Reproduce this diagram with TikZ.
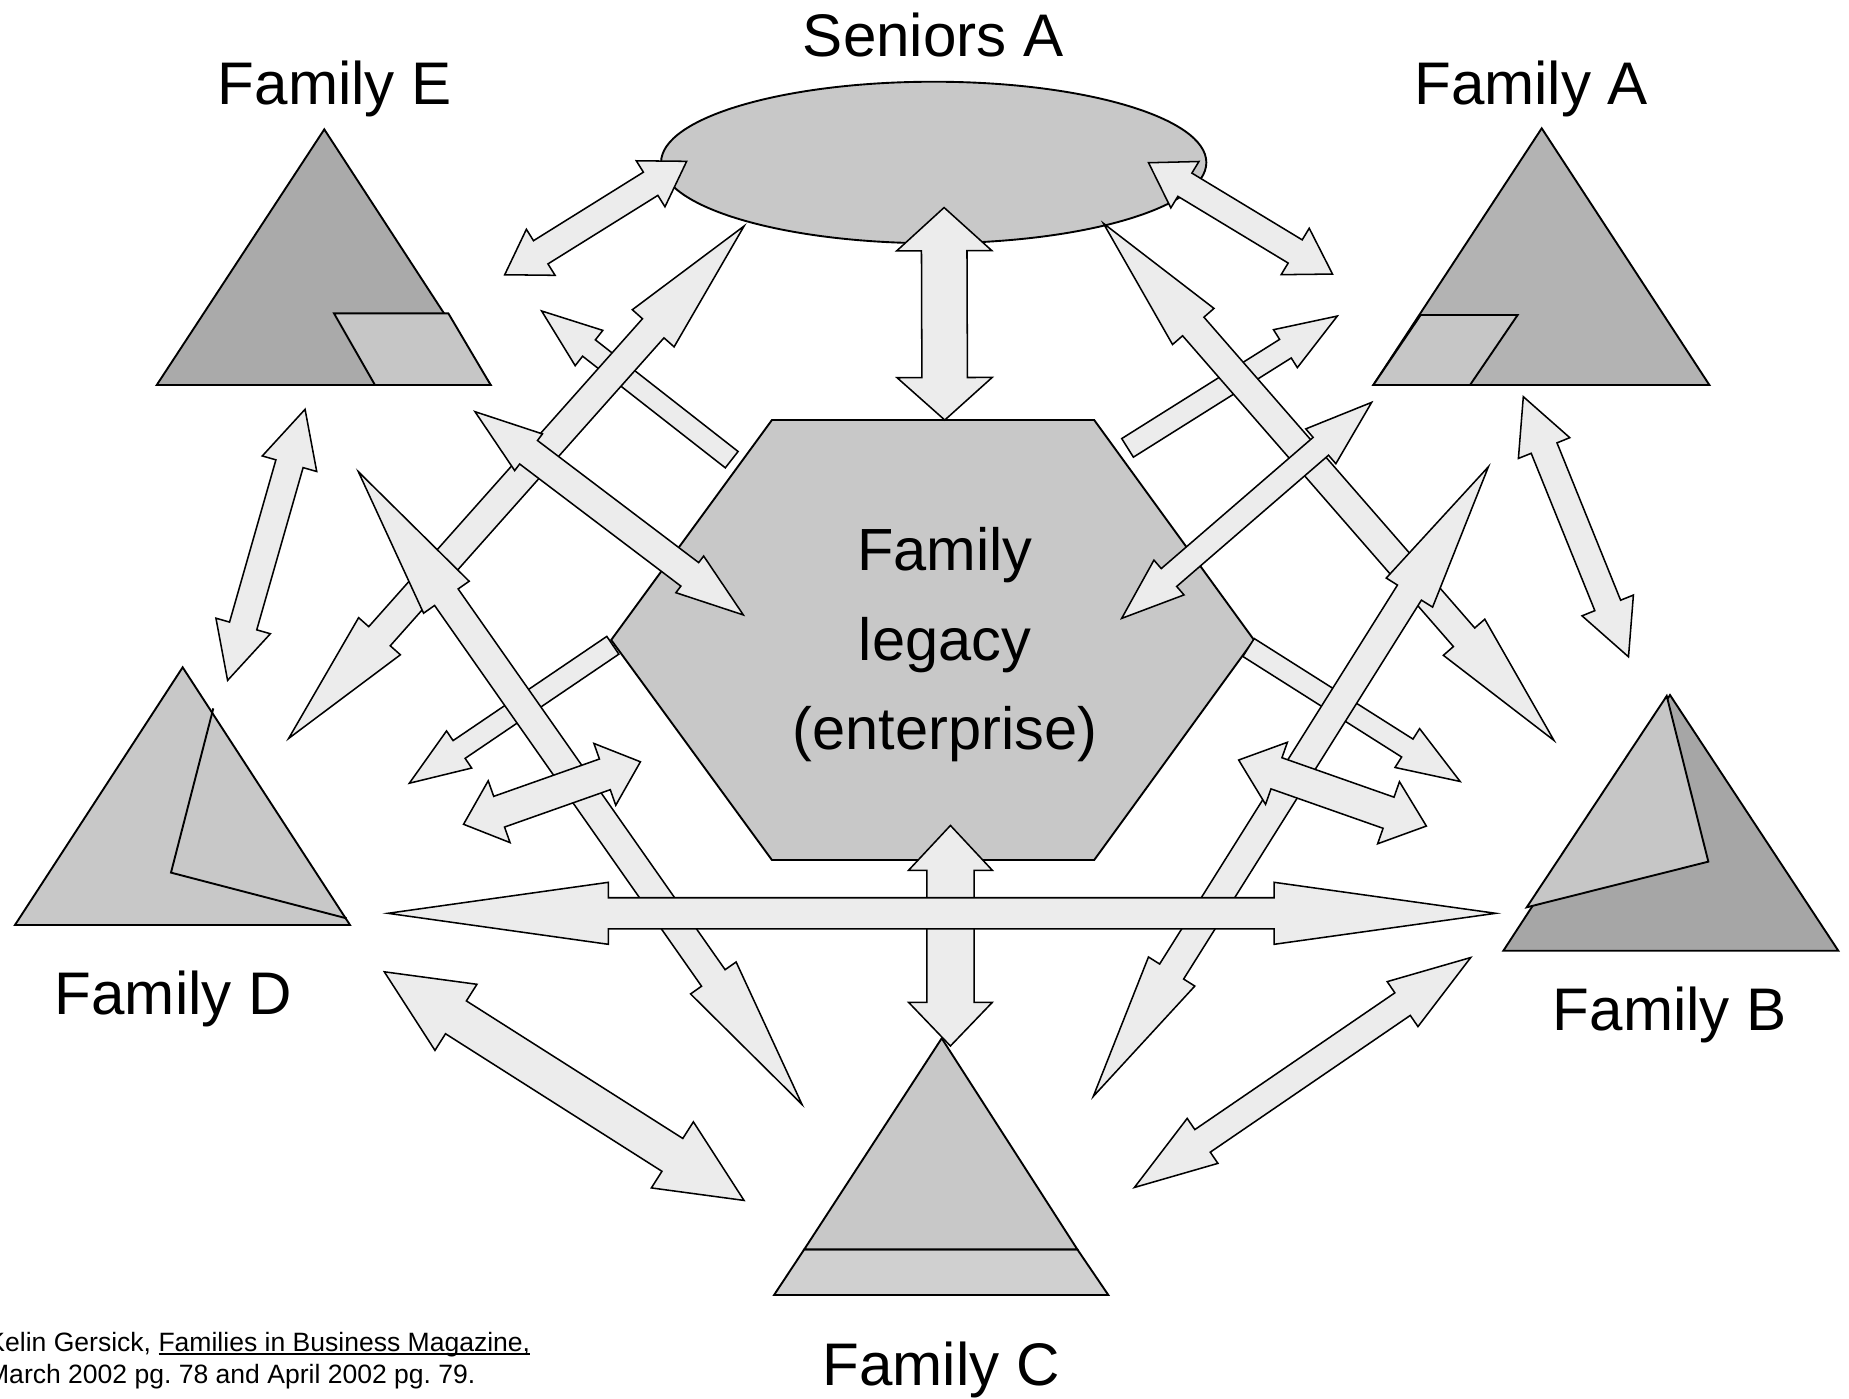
\documentclass[tikz,border=0pt]{standalone}
\usepackage{fontspec}
\setmainfont{Liberation Sans}
\frenchspacing
\definecolor{arrowgray}{HTML}{ECECEC}
\definecolor{midgray}{HTML}{C8C8C8}
\definecolor{lightband}{HTML}{D0D0D0}
\definecolor{darkE}{HTML}{AAAAAA}
\definecolor{darkA}{HTML}{B3B3B3}
\definecolor{darkB}{HTML}{A6A6A6}
\definecolor{paragray}{HTML}{C6C6C6}
\newdimen\baxa \newdimen\baya \newdimen\baxb \newdimen\bayb
\newcommand\citeul[1]{\setbox0\hbox{#1}\rlap{\vrule height -1.2pt depth 2.8pt width \wd0}\box0}
% block arrow: #1 from, #2 to, #3 shaft half width, #4 head half width,
% #5 head length at start (0 = flat tail), #6 head length at end
\newcommand\blockarrow[6]{%
  \pgfextractx{\baxa}{\pgfpointanchor{#1}{center}}%
  \pgfextracty{\baya}{\pgfpointanchor{#1}{center}}%
  \pgfextractx{\baxb}{\pgfpointanchor{#2}{center}}%
  \pgfextracty{\bayb}{\pgfpointanchor{#2}{center}}%
  \pgfmathsetmacro\baAng{atan2(\bayb-\baya,\baxb-\baxa)}%
  \pgfmathsetmacro\baLen{veclen(\baxb-\baxa,\bayb-\baya)}%
  \pgfmathsetmacro\baM{\baLen-#6}%
  \begin{scope}[shift={(#1)},rotate=\baAng]
    \ifdim #5pt>0pt
      \draw[barrow] (0,0) -- (#5,#4) -- (#5,#3) -- (\baM,#3) -- (\baM,#4) -- (\baLen,0)
        -- (\baM,-#4) -- (\baM,-#3) -- (#5,-#3) -- (#5,-#4) -- cycle;
    \else
      \draw[barrow] (0,#3) -- (\baM,#3) -- (\baM,#4) -- (\baLen,0)
        -- (\baM,-#4) -- (\baM,-#3) -- (0,-#3) -- cycle;
    \fi
  \end{scope}}
\tikzset{
  shapeline/.style={draw=black, line width=1.6pt, line join=miter},
  barrow/.style={draw=black, fill=arrowgray, line width=1.3pt, line join=miter},
  lbl/.style={font=\fontsize{51}{61}\selectfont, anchor=base, inner sep=0pt},
  centertext/.style={font=\fontsize{50.5}{60}\selectfont, anchor=base, inner sep=0pt},
  citetext/.style={font=\fontsize{22.5}{27}\selectfont, anchor=base west, inner sep=0pt},
}
\begin{document}
\begin{tikzpicture}[x=1pt,y=-1pt]
\useasboundingbox (0,0) rectangle (1568,1186.3);
\clip (0,0) rectangle (1568,1186.3);
\fill[white] (0,0) rectangle (1568,1186.3);

% ---------- shapes ----------
% Seniors A ellipse
\draw[shapeline, fill=midgray] (791.8,137.8) ellipse [x radius=231.2pt, y radius=68.5pt];
% hexagon
\draw[shapeline, fill=midgray] (654.6,356.2) -- (927.9,356.2) -- (1063.4,542.7) -- (927.9,729.3)
  -- (654.6,729.3) -- (518.3,542.7) -- cycle;
% Family E triangle
\draw[shapeline, fill=darkE] (275,109.7) -- (416.1,326.5) -- (132.9,326.5) -- cycle;
\draw[shapeline, fill=paragray] (283.2,265.7) -- (380.2,265.7) -- (416.1,326.5) -- (318,326.5) -- cycle;
% Family A triangle
\draw[shapeline, fill=darkA] (1307.4,108.8) -- (1449.6,326.5) -- (1164.6,326.5) -- cycle;
\draw[shapeline, fill=paragray] (1204.8,267.1) -- (1287,267.1) -- (1246.6,326.5) -- (1164.6,326.5) -- cycle;
% Family D triangle
\draw[shapeline, fill=midgray] (154.9,565.9) -- (296.8,784.4) -- (12.7,784.4) -- cycle;
\draw[shapeline] (180.9,600.7) -- (145,740) -- (294,778.8);
% Family B triangle
\draw[shapeline, fill=darkB] (1416.2,589.4) -- (1558.9,806.2) -- (1274.9,806.2) -- cycle;
\draw[shapeline, fill=paragray] (1413.4,590.2) -- (1448.7,730.7) -- (1294.7,769.4) -- cycle;
% Family C triangle
\draw[shapeline, fill=lightband] (682,1059.5) -- (913.6,1059.5) -- (939.9,1098.2) -- (656.4,1098.2) -- cycle;
\draw[shapeline, fill=midgray] (798.6,880.5) -- (913.6,1059.5) -- (682,1059.5) -- cycle;

% ---------- arrow end points ----------
\coordinate (a1s) at (428,233);      \coordinate (a1e) at (582.3,136.8);
\coordinate (a2s) at (974,138);      \coordinate (a2e) at (1130,232.4);
\coordinate (a3s) at (800.6,176);    \coordinate (a3e) at (801.2,356.2);
\coordinate (a4s) at (631,191.7);    \coordinate (a4e) at (244.7,626.3);
\coordinate (a5s) at (935.7,189.4);  \coordinate (a5e) at (1317.8,627.9);
\coordinate (a6s) at (620.5,389.8);  \coordinate (a6e) at (459.3,263.7);
\coordinate (a7s) at (956.2,379.8);  \coordinate (a7e) at (1134.1,268);
\coordinate (a8s) at (402.8,349.1);  \coordinate (a8e) at (630.4,521.5);
\coordinate (a9s) at (1163.2,341.2); \coordinate (a9e) at (951.2,524.4);
\coordinate (a10s) at (258.7,347.1); \coordinate (a10e) at (193,577);
\coordinate (a11s) at (1291.8,336.4);\coordinate (a11e) at (1381,557);
\coordinate (a12s) at (303.9,400);   \coordinate (a12e) at (680.2,936.7);
\coordinate (a13s) at (1262.2,395.8);\coordinate (a13e) at (927.1,929.8);
\coordinate (a14s) at (519.7,547.2); \coordinate (a14e) at (347.1,664.2);
\coordinate (a15s) at (1058.8,549.1);\coordinate (a15e) at (1238.2,662.7);
\coordinate (a16s) at (393.1,699);   \coordinate (a16e) at (543.1,646);
\coordinate (a17s) at (1050.4,644.5);\coordinate (a17e) at (1209.6,700.5);
\coordinate (a18s) at (806,700);     \coordinate (a18e) at (806,887);
\coordinate (a19s) at (329,774.5);   \coordinate (a19e) at (1268.4,774.5);
\coordinate (a20s) at (325.9,824.1); \coordinate (a20e) at (631,1018);
\coordinate (a21s) at (1247.2,812);  \coordinate (a21e) at (962,1007);

% ---------- arrows (order sets overlaps) ----------
\blockarrow{a6s}{a6e}{8.8}{19}{0}{51}
\blockarrow{a7s}{a7e}{9.3}{19}{0}{52}
\blockarrow{a14s}{a14e}{9.1}{19}{0}{51}
\blockarrow{a15s}{a15e}{9}{19.5}{0}{53}
\blockarrow{a4s}{a4e}{12.2}{23.7}{116}{116}
\blockarrow{a5s}{a5e}{12}{23.3}{116}{116}
\blockarrow{a12s}{a12e}{12.2}{23.6}{130}{131}
\blockarrow{a13s}{a13e}{12}{23.2}{126}{125}
\blockarrow{a8s}{a8e}{12.5}{19.5}{57}{57}
\blockarrow{a9s}{a9e}{10}{19.5}{57}{53}
\blockarrow{a16s}{a16e}{13.8}{27.8}{32}{32}
\blockarrow{a17s}{a17e}{14}{27.9}{34}{34}
\blockarrow{a18s}{a18e}{20}{35.5}{38}{37}
\blockarrow{a19s}{a19e}{13.2}{26.3}{187}{188}
\blockarrow{a1s}{a1e}{11.6}{23}{36}{36}
\blockarrow{a2s}{a2e}{11.5}{23}{36}{37}
\blockarrow{a3s}{a3e}{19.3}{40.3}{36.6}{36}
\blockarrow{a10s}{a10e}{12}{24}{48}{48}
\blockarrow{a11s}{a11e}{11.8}{23.5}{47}{47}
\blockarrow{a20s}{a20e}{16.5}{33.2}{72}{72}
\blockarrow{a21s}{a21e}{11.6}{23.1}{70}{70}

% ---------- labels ----------
\node[lbl] (lseniors) at (791.5,48) {Seniors A};
\node[lbl] (lfamE) at (284,89) {Family E};
\node[lbl] (lfamA) at (1298.5,89) {Family A};
\node[lbl] (lfamD) at (147,860) {Family D};
\node[lbl] (lfamB) at (1416,874) {Family B};
\node[lbl] (lfamC) at (798,1175) {Family C};
\node[centertext] (leg1) at (801.3,483.4) {Family};
\node[centertext] (leg2) at (801.3,559.7) {legacy};
\node[centertext] (leg3) at (801.3,636) {(enterprise)};
\node[citetext] (cite1) at (-10.8,1146.3) {Kelin Gersick, \citeul{Families in Business Magazine,}};
\node[citetext] (cite2) at (-11.1,1173.1) {March 2002 pg. 78 and April 2002 pg. 79.};
\end{tikzpicture}
\end{document}
